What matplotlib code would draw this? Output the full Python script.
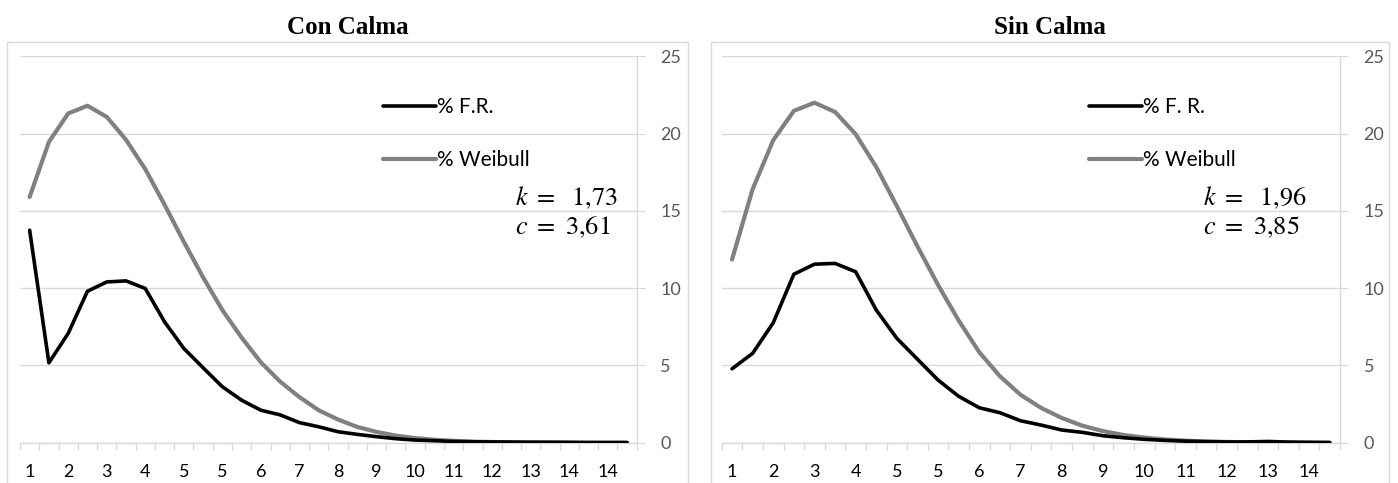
import matplotlib
matplotlib.use("Agg")
import matplotlib.pyplot as plt
from matplotlib.patches import Rectangle
from matplotlib.ticker import FixedLocator

W, H = 1398, 483

# --- data ---
labels_con = ["1", "", "2", "", "3", "", "4", "", "5", "", "5", "", "6", "", "7", "",
              "8", "", "9", "", "10", "", "11", "", "12", "", "13", "", "14", "", "14", ""]
fr_con = [13.75, 5.17, 7.07, 9.8, 10.4, 10.47, 9.98, 7.82, 6.1, 4.85, 3.62, 2.75,
          2.1, 1.8, 1.3, 1.03, 0.71, 0.54, 0.39, 0.26, 0.17, 0.13, 0.08, 0.06,
          0.05, 0.04, 0.03, 0.03, 0.02, 0.01, 0.01, 0.01]
wb_con = [15.9, 19.46, 21.3, 21.8, 21.08, 19.6, 17.7, 15.4, 13.0, 10.7, 8.58, 6.8,
          5.2, 3.95, 2.95, 2.1, 1.5, 1.02, 0.7, 0.46, 0.3, 0.19, 0.12, 0.07,
          0.045, 0.03, 0.02, 0.01, 0.01, 0.0, 0.0, 0.0]

labels_sin = ["1", "", "2", "", "3", "", "4", "", "5", "", "5", "", "6", "", "7", "",
              "8", "", "9", "", "10", "", "11", "", "12", "", "13", "", "14", ""]
fr_sin = [4.78, 5.78, 7.76, 10.9, 11.55, 11.6, 11.06, 8.58, 6.75, 5.4, 4.05, 3.0,
          2.26, 1.94, 1.42, 1.14, 0.82, 0.67, 0.45, 0.32, 0.22, 0.15, 0.1, 0.07,
          0.05, 0.05, 0.08, 0.04, 0.02, 0.01]
wb_sin = [11.85, 16.4, 19.57, 21.47, 22.0, 21.4, 19.96, 17.84, 15.3, 12.7, 10.2, 7.9,
          5.85, 4.3, 3.1, 2.25, 1.6, 1.1, 0.75, 0.5, 0.33, 0.21, 0.13, 0.08,
          0.05, 0.03, 0.02, 0.01, 0.01, 0.0]

grid_c = "#d9d9d9"
text_c = "#595959"

plt.rcParams["mathtext.fontset"] = "stix"

fig = plt.figure(figsize=(W / 100, H / 100), dpi=100)


def box(x0, y0, x1, y1):
    # pixel box (top-left origin) -> figure fraction rect
    return [x0 / W, 1 - y1 / H, (x1 - x0) / W, (y1 - y0) / H]


def panel(rect, border, title, labels, fr, wb, fr_label, kc, leg_xy):
    # border around the chart
    bx0, by0, bx1 = border
    fig.patches.append(Rectangle((bx0 / W, -0.1), (bx1 - bx0) / W, 1 - by0 / H + 0.1,
                                 transform=fig.transFigure, fill=False,
                                 edgecolor=grid_c, linewidth=1))
    fig.text((bx0 + bx1) / 2 / W, 1 - 28 / H, title, ha="center", va="center",
             fontsize=18, fontweight="bold", family="Liberation Serif")

    ax = fig.add_axes(box(*rect))
    n = len(fr)
    x = list(range(n))
    ax.plot(x, fr, color="black", lw=2.6, label=fr_label, solid_capstyle="round",
            solid_joinstyle="round", zorder=3)
    ax.plot(x, wb, color="#808080", lw=3.0, label="% Weibull", solid_capstyle="round",
            solid_joinstyle="round", zorder=2)
    ax.set_xlim(-0.5, n - 0.5)
    ax.set_ylim(0, 25)

    for s in ["top", "left"]:
        ax.spines[s].set_visible(False)
    ax.spines["bottom"].set_color(grid_c)
    ax.spines["right"].set_color(grid_c)
    ax.spines["bottom"].set_linewidth(1)
    ax.spines["right"].set_linewidth(1)

    ax.yaxis.tick_right()
    ax.set_yticks([0, 5, 10, 15, 20, 25])
    ax.yaxis.grid(True, color=grid_c, lw=1)
    ax.set_axisbelow(True)
    ax.tick_params(axis="y", which="major", length=6, color=grid_c, pad=11,
                   labelsize=13, labelcolor=text_c)

    ax.set_xticks(x)
    ax.set_xticklabels(labels)
    ax.xaxis.set_minor_locator(FixedLocator([i - 0.5 for i in range(n + 1)]))
    ax.tick_params(axis="x", which="major", length=0, pad=15, labelsize=13,
                   labelcolor="black")
    ax.tick_params(axis="x", which="minor", length=5, color=grid_c, width=1)
    for t in ax.get_xticklabels() + ax.get_yticklabels():
        t.set_family("Lato")

    ax.legend(loc="upper left", bbox_to_anchor=(leg_xy[0] / W, 1 - leg_xy[1] / H),
              bbox_transform=fig.transFigure, frameon=False, handlelength=2.55,
              handletextpad=0.05, labelspacing=1.6, borderpad=0, borderaxespad=0,
              prop={"family": "Lato", "size": 15})

    kx, ky = kc[0]
    ax.text(kx / W, 1 - ky / H, kc[1], transform=fig.transFigure, ha="left",
            va="center", fontsize=19)
    ax.text(kx / W, 1 - (ky + 29) / H, kc[2], transform=fig.transFigure, ha="left",
            va="center", fontsize=19)
    return ax


panel((20, 56.3, 636.7, 442.7), (7.3, 41.7, 688), "Con Calma", labels_con, fr_con,
      wb_con, "% F.R.", ((515, 198), r"$k\ =\ \ 1{,}73$", r"$c\ =\ 3{,}61$"), (383, 97))
panel((721.7, 56.3, 1340, 442.7), (710.7, 41.7, 1389), "Sin Calma", labels_sin, fr_sin,
      wb_sin, "% F. R.", ((1203, 198), r"$k\ =\ \ 1{,}96$", r"$c\ =\ 3{,}85$"), (1089, 97))

fig.savefig("out.png", dpi=100)
